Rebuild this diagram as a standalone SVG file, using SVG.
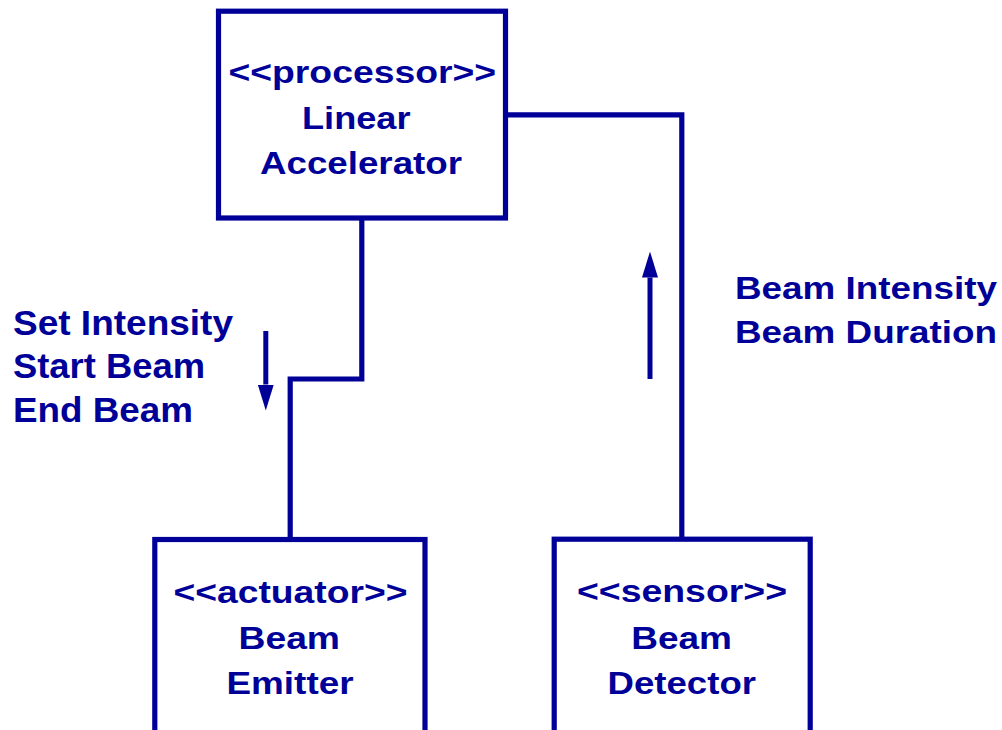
<svg xmlns="http://www.w3.org/2000/svg" width="1002" height="730" viewBox="0 0 1002 730">
<style>
.box{fill:#fff;stroke:#000099;stroke-width:5.2}
.wire{fill:none;stroke:#000099;stroke-width:5.2}
.flow{stroke:#000099;stroke-width:5}
text{font-family:"Liberation Sans",Arial,sans-serif;font-weight:bold;fill:#000099}
.nt{font-size:32px}
.lb{font-size:35px}
</style>
<defs>
<marker id="ah" viewBox="0 0 26 16" refX="0" refY="8" markerWidth="26" markerHeight="16" markerUnits="userSpaceOnUse" orient="auto">
<path d="M0,0 L26,8 L0,16 z" fill="#000099"/>
</marker>
</defs>
<rect width="1002" height="730" fill="#fff"/>
<g id="connectors">
<path class="wire" d="M361.8,219 V379 H290.2 V539"/>
<path class="wire" d="M505.5,114.8 H681.8 V539"/>
<line class="flow" x1="265.8" y1="331" x2="265.8" y2="384.5" marker-end="url(#ah)"/>
<line class="flow" x1="650" y1="379" x2="650" y2="277.5" marker-end="url(#ah)"/>
</g>
<g id="linac">
<rect class="box" x="218.5" y="11.2" width="287" height="206.8"/>
<text class="nt" x="228.5" y="83" textLength="267.5" lengthAdjust="spacingAndGlyphs">&lt;&lt;processor&gt;&gt;</text>
<text class="nt" x="302" y="128.5" textLength="108.5" lengthAdjust="spacingAndGlyphs">Linear</text>
<text class="nt" x="260" y="174" textLength="202" lengthAdjust="spacingAndGlyphs">Accelerator</text>
</g>
<g id="emitter">
<rect class="box" x="154.8" y="539.5" width="270.2" height="210"/>
<text class="nt" x="173.5" y="602.5" textLength="234" lengthAdjust="spacingAndGlyphs">&lt;&lt;actuator&gt;&gt;</text>
<text class="nt" x="238.5" y="649" textLength="101.5" lengthAdjust="spacingAndGlyphs">Beam</text>
<text class="nt" x="226.5" y="694" textLength="127" lengthAdjust="spacingAndGlyphs">Emitter</text>
</g>
<g id="detector">
<rect class="box" x="554.2" y="539.2" width="256" height="210"/>
<text class="nt" x="577" y="602" textLength="210" lengthAdjust="spacingAndGlyphs">&lt;&lt;sensor&gt;&gt;</text>
<text class="nt" x="631.2" y="649" textLength="100.8" lengthAdjust="spacingAndGlyphs">Beam</text>
<text class="nt" x="607.5" y="694" textLength="148.5" lengthAdjust="spacingAndGlyphs">Detector</text>
</g>
<g id="labels">
<text class="lb" x="13" y="334.5" textLength="220" lengthAdjust="spacingAndGlyphs">Set Intensity</text>
<text class="lb" x="13" y="377.8" textLength="192" lengthAdjust="spacingAndGlyphs">Start Beam</text>
<text class="lb" x="13" y="422" textLength="180" lengthAdjust="spacingAndGlyphs">End Beam</text>
<text class="nt" x="735" y="299" textLength="262" lengthAdjust="spacingAndGlyphs">Beam Intensity</text>
<text class="nt" x="735" y="343" textLength="262" lengthAdjust="spacingAndGlyphs">Beam Duration</text>
</g>
</svg>
